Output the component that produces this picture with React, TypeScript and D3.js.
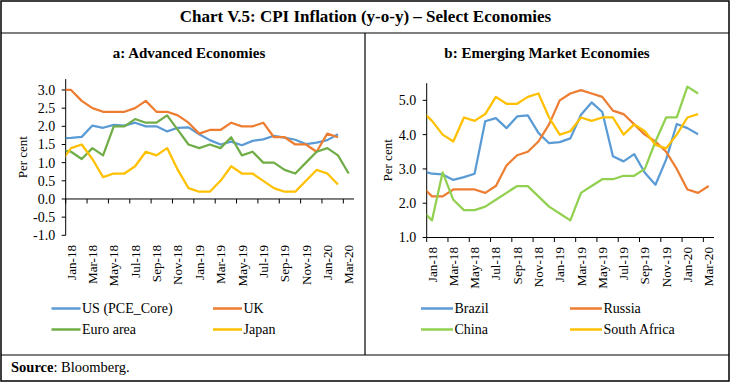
import React from 'react';
import * as d3 from 'd3';

// ---- Data (Dec-17 is only partly visible: clipped at the left edge) ----
const months = ['Dec-17','Jan-18','Feb-18','Mar-18','Apr-18','May-18','Jun-18','Jul-18','Aug-18','Sep-18','Oct-18','Nov-18','Dec-18',
  'Jan-19','Feb-19','Mar-19','Apr-19','May-19','Jun-19','Jul-19','Aug-19','Sep-19','Oct-19','Nov-19','Dec-19','Jan-20','Feb-20','Mar-20'];
const tickLabels = ['Jan-18','Mar-18','May-18','Jul-18','Sep-18','Nov-18','Jan-19','Mar-19','May-19','Jul-19','Sep-19','Nov-19','Jan-20','Mar-20'];

const usPceCore = [1.67, 1.68,1.71,2.02,1.96,2.04,2.02,2.1,2.0,2.0,1.86,1.96,1.97, 1.78,1.62,1.5,1.58,1.48,1.6,1.64,1.74,1.69,1.63,1.51,1.55, 1.62,1.78,null];
const uk = [3.0, 3.0,2.7,2.5,2.4,2.4,2.4,2.5,2.7,2.4,2.4,2.3,2.1, 1.8,1.9,1.9,2.1,2.0,2.0,2.1,1.7,1.7,1.5,1.5,1.3, 1.8,1.7,null];
const euroArea = [1.35, 1.3,1.1,1.4,1.2,2.0,2.0,2.2,2.1,2.1,2.3,1.9,1.5, 1.4,1.5,1.4,1.7,1.2,1.3,1.0,1.0,0.8,0.7,1.0,1.3, 1.4,1.2,0.7];
const japan = [1.0, 1.4,1.5,1.1,0.6,0.7,0.7,0.9,1.3,1.2,1.4,0.8,0.3, 0.2,0.2,0.5,0.9,0.7,0.7,0.5,0.3,0.2,0.2,0.5,0.8, 0.7,0.4,null];

const brazil = [2.95, 2.86,2.84,2.68,2.76,2.86,4.39,4.48,4.19,4.53,4.56,4.05,3.75, 3.78,3.89,4.58,4.94,4.66,3.37,3.22,3.43,2.89,2.54,3.27,4.31, 4.19,4.01,null];
const russia = [2.5, 2.2,2.2,2.4,2.4,2.4,2.3,2.5,3.1,3.4,3.5,3.8,4.3, 5.0,5.2,5.3,5.2,5.1,4.7,4.6,4.3,4.0,3.8,3.5,3.0, 2.4,2.3,2.5];
const china = [1.8, 1.5,2.9,2.1,1.8,1.8,1.9,2.1,2.3,2.5,2.5,2.2,1.9, 1.7,1.5,2.3,2.5,2.7,2.7,2.8,2.8,3.0,3.8,4.5,4.5, 5.4,5.2,null];
const southAfrica = [4.7, 4.4,4.0,3.8,4.5,4.4,4.6,5.1,4.9,4.9,5.1,5.2,4.5, 4.0,4.1,4.5,4.4,4.5,4.5,4.0,4.3,4.1,3.7,3.6,4.0, 4.5,4.6,null];

const yTicksA = [-1.0,-0.5,0,0.5,1.0,1.5,2.0,2.5,3.0];
const yTicksB = [1.0,2.0,3.0,4.0,5.0];

const FONT = '"Liberation Serif", "Times New Roman", Times, serif';
const fmt = (v: number) => d3.format('.1f')(v).replace('\u2212', '-');

type Series = { name: string; values: (number | null)[]; color: string };

type PanelCfg = {
  id: string;
  subtitle: string;
  subtitleX: number;
  left: number; right: number; top: number; bottom: number;
  domain: [number, number];
  axisAt: number;
  yTicks: number[];
  perCentX: number;
  series: Series[];
  legendCols: number[];
  legendRows: number[];
  legendLineLen: number;
};

const panelA: PanelCfg = {
  id: 'a', subtitle: 'a: Advanced Economies', subtitleX: 189,
  left: 65.7, right: 354, top: 79.1, bottom: 235.3,
  domain: [-1, 3.3], axisAt: 0, yTicks: yTicksA, perCentX: 22,
  series: [
    { name: 'US (PCE_Core)', values: usPceCore, color: '#5B9BD5' },
    { name: 'UK', values: uk, color: '#ED7D31' },
    { name: 'Euro area', values: euroArea, color: '#70AD47' },
    { name: 'Japan', values: japan, color: '#FFC000' },
  ],
  legendCols: [51.5, 213], legendRows: [308.5, 329.5], legendLineLen: 29,
};

const panelB: PanelCfg = {
  id: 'b', subtitle: 'b: Emerging Market Economies', subtitleX: 547,
  left: 426.7, right: 714, top: 83.2, bottom: 237.5,
  domain: [1, 5.5], axisAt: 1, yTicks: yTicksB, perCentX: 387,
  series: [
    { name: 'Brazil', values: brazil, color: '#5B9BD5' },
    { name: 'Russia', values: russia, color: '#ED7D31' },
    { name: 'China', values: china, color: '#92D050' },
    { name: 'South Africa', values: southAfrica, color: '#FFC000' },
  ],
  legendCols: [421, 570], legendRows: [308.5, 329.5], legendLineLen: 32,
};

function Panel({ cfg }: { cfg: PanelCfg }) {
  const nCat = months.length - 1; // visible categories Jan-18..Mar-20
  const x = d3.scaleLinear().domain([0, nCat]).range([cfg.left, cfg.right]);
  const y = d3.scaleLinear().domain(cfg.domain).range([cfg.bottom, cfg.top]);
  const px = (i: number) => x(i - 1 + 0.5);
  const line = d3.line<number | null>()
    .defined((d) => d != null)
    .x((_, i) => px(i))
    .y((d) => y(d as number));
  const axisY = y(cfg.axisAt);
  const clipId = 'clip-' + cfg.id;
  const tickIdx = tickLabels.map((_, k) => 2 * k);
  return (
    <g>
      <defs>
        <clipPath id={clipId}>
          <rect x={cfg.left} y={cfg.top - 20} width={cfg.right - cfg.left} height={cfg.bottom - cfg.top + 40} />
        </clipPath>
      </defs>
      <text x={cfg.subtitleX} y={57.5} textAnchor="middle" fontFamily={FONT} fontWeight="bold" fontSize={15}>{cfg.subtitle}</text>
      {/* y axis */}
      <line x1={cfg.left} x2={cfg.left} y1={cfg.top} y2={cfg.bottom} stroke="#000" strokeWidth={1} />
      {cfg.yTicks.map((t) => (
        <g key={t}>
          <line x1={cfg.left - 4} x2={cfg.left} y1={y(t)} y2={y(t)} stroke="#000" strokeWidth={1} />
          <text x={cfg.left - 10.5} y={y(t)} dy="0.35em" textAnchor="end" fontFamily={FONT} fontSize={14}>{fmt(t)}</text>
        </g>
      ))}
      <text transform={`translate(${cfg.perCentX},${(cfg.top + cfg.bottom) / 2}) rotate(-90)`} textAnchor="middle" dy="0.35em" fontFamily={FONT} fontSize={13}>Per cent</text>
      {/* x axis */}
      <line x1={cfg.left} x2={cfg.right} y1={axisY} y2={axisY} stroke="#000" strokeWidth={1} />
      {tickIdx.map((c) => (
        <line key={c} x1={x(c)} x2={x(c)} y1={axisY} y2={axisY + 4.5} stroke="#000" strokeWidth={1} />
      ))}
      {tickLabels.map((lab, k) => (
        <text key={lab} transform={`translate(${x(2 * k + 0.5)},${cfg.bottom + 9.5}) rotate(-90)`} textAnchor="end" dy="0.35em" fontFamily={FONT} fontSize={13.2}>{lab}</text>
      ))}
      {/* series */}
      <g clipPath={`url(#${clipId})`}>
        {cfg.series.map((s) => (
          <path key={s.name} d={line(s.values) || ''} fill="none" stroke={s.color} strokeWidth={2.25} strokeLinejoin="round" />
        ))}
      </g>
      {/* legend */}
      {cfg.series.map((s, i) => {
        const lx = cfg.legendCols[i % 2];
        const ly = cfg.legendRows[Math.floor(i / 2)];
        return (
          <g key={'lg' + s.name}>
            <line x1={lx} x2={lx + cfg.legendLineLen} y1={ly} y2={ly} stroke={s.color} strokeWidth={2.5} />
            <text x={lx + cfg.legendLineLen + 1.5} y={ly} dy="0.35em" fontFamily={FONT} fontSize={14}>{s.name}</text>
          </g>
        );
      })}
    </g>
  );
}

export default function App() {
  return (
    <svg width={731} height={383} style={{ position: 'absolute', left: 0, top: 0, background: '#fff' }}>
      <rect x={0} y={0} width={731} height={383} fill="#fff" />
      <rect x={1} y={1} width={728} height={380} fill="none" stroke="#000" strokeWidth={1.5} />
      <text x={365.5} y={21.5} textAnchor="middle" fontFamily={FONT} fontWeight="bold" fontSize={17}>Chart V.5: CPI Inflation (y-o-y) – Select Economies</text>
      <line x1={1} x2={729} y1={33} y2={33} stroke="#000" strokeWidth={1.2} />
      <line x1={365} x2={365} y1={33} y2={355} stroke="#000" strokeWidth={1.2} />
      <line x1={1} x2={729} y1={355} y2={355} stroke="#000" strokeWidth={1.2} />
      <Panel cfg={panelA} />
      <Panel cfg={panelB} />
      <text x={11} y={372} fontFamily={FONT} fontSize={14.5}>
        <tspan fontWeight="bold">Source</tspan>: Bloomberg.
      </text>
    </svg>
  );
}
